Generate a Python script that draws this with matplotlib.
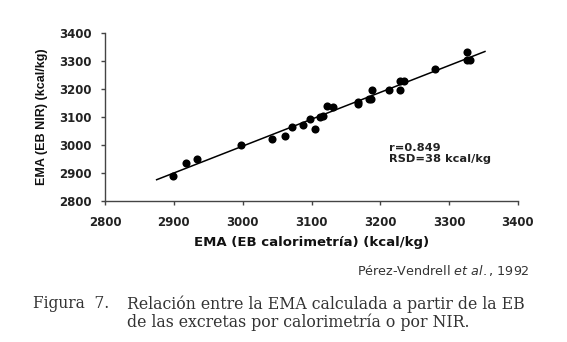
import matplotlib
matplotlib.use("Agg")
import matplotlib.pyplot as plt
import numpy as np

# Data
ema_calorimetria = [2899, 2917, 2933, 2997, 3042, 3062, 3071, 3087, 3098, 3105,
                    3112, 3117, 3122, 3131, 3167, 3168, 3183, 3186, 3188, 3212,
                    3229, 3234, 3229, 3280, 3326, 3326, 3330]
ema_nir = [2891, 2934, 2951, 3001, 3021, 3031, 3063, 3072, 3093, 3058,
           3099, 3105, 3141, 3136, 3146, 3155, 3164, 3166, 3197, 3195,
           3227, 3227, 3197, 3271, 3331, 3302, 3302]
line_x = [2875, 3352]
line_y = [2876, 3334]
ticks = [2800, 2900, 3000, 3100, 3200, 3300, 3400]

WIDE = ['DejaVu Sans']
NARROW = ['Liberation Sans', 'DejaVu Sans']
SERIF = ['DejaVu Serif']
plt.rcParams['font.family'] = WIDE

fig = plt.figure(figsize=(5.67, 3.42), dpi=100)
ax = fig.add_axes([105/567, 1 - 201/342, (518-105)/567, (201-33)/342])

ax.plot(line_x, line_y, color='black', lw=1.1, zorder=2)
ax.scatter(ema_calorimetria, ema_nir, s=34, color='black', zorder=3, linewidths=0)

ax.set_xlim(2800, 3400)
ax.set_ylim(2800, 3400)
ax.set_xticks(ticks)
ax.set_yticks(ticks)
ax.set_xticklabels([str(t) for t in ticks], fontweight='bold', fontsize=8.5, color='#222222')
ax.set_yticklabels([str(t) for t in ticks], fontweight='bold', fontsize=8.5, color='#222222')
for s in ['top', 'right']:
    ax.spines[s].set_visible(False)
for s in ['left', 'bottom']:
    ax.spines[s].set_color('#444444')
    ax.spines[s].set_linewidth(1.0)
ax.tick_params(direction='out', length=3, width=1, color='#444444')
ax.tick_params(axis='x', pad=8)
ax.tick_params(axis='y', pad=6.5)

ax.set_xlabel('EMA (EB calorimetría) (kcal/kg)', fontweight='bold', fontsize=9.5,
              labelpad=5, color='#111111')
ax.set_ylabel('EMA (EB NIR) (kcal/kg)', fontweight='bold', fontsize=9,
              labelpad=8, color='#111111', family=NARROW)

ax.text(3213, 3007, 'r=0.849\nRSD=38 kcal/kg', fontweight='bold', fontsize=8.2,
        va='top', ha='left', linespacing=1.15, color='#222222')

fig.text(530/567, 1 - 270/342, 'Pérez-Vendrell $\\it{et\\ al.}$, 1992',
         ha='right', va='center', fontsize=9.2, color='#333333')

fig.text(33/567, 1 - 304/342, 'Figura  7.', family=SERIF,
         fontsize=11.2, ha='left', va='center', color='#333333')
fig.text(127/567, 1 - 304/342, 'Relación entre la EMA calculada a partir de la EB',
         family=SERIF, fontsize=11.3, ha='left', va='center', color='#333333')
fig.text(127/567, 1 - 322/342, 'de las excretas por calorimetría o por NIR.',
         family=SERIF, fontsize=11.3, ha='left', va='center', color='#333333')

fig.savefig('out.png', dpi=100)
